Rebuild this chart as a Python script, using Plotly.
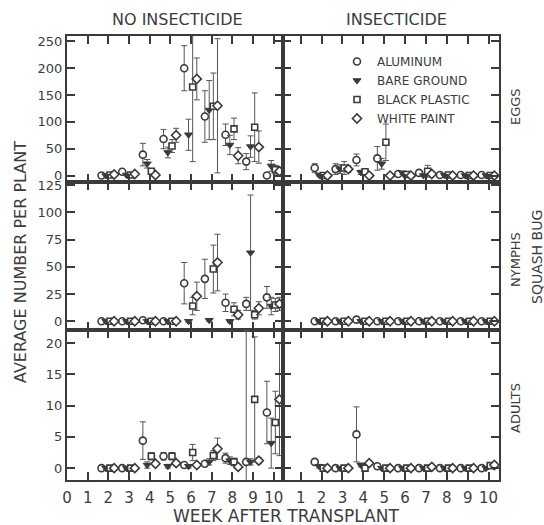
import plotly.graph_objects as go
from plotly.subplots import make_subplots

WEEKS = [2, 3, 4, 5, 6, 7, 8, 9, 10]
TREATMENTS = ["ALUMINUM", "BARE GROUND", "BLACK PLASTIC", "WHITE PAINT"]
ROW_LABELS = ["EGGS", "NYMPHS", "ADULTS"]
COL_TITLES = ["NO INSECTICIDE", "INSECTICIDE"]
X_TICKS_LEFT = [0, 1, 2, 3, 4, 5, 6, 7, 8, 9, 10]
X_TICKS_RIGHT = [1, 2, 3, 4, 5, 6, 7, 8, 9, 10]
Y_TICKS_EGGS = [0, 50, 100, 150, 200, 250]
Y_TICKS_NYMPHS = [0, 25, 50, 75, 100, 125]
Y_TICKS_ADULTS = [0, 5, 10, 15, 20]

# values per treatment (AL, BG, BP, WP) for weeks 2..10
EGGS_NO = [
    [0, 7, 39, 68, 200, 110, 76, 26, 0],
    [0, 1, 22, 43, 76, 122, 57, 54, 18],
    [1, 1, 8, 55, 165, 129, 87, 90, 11],
    [2, 3, 1, 75, 180, 130, 37, 53, 8],
]
EGGS_NO_ERR = [
    [1, 3, 21, 18, 42, 48, 20, 15, 2],
    [1, 1, 8, 10, 29, 55, 18, 20, 10],
    [1, 1, 5, 12, 139, 62, 20, 64, 8],
    [1, 2, 2, 13, 39, 125, 15, 30, 6],
]
EGGS_INS = [
    [14, 12, 29, 32, 3, 5, 1, 1, 1],
    [1, 12, 6, 22, 5, 0, 1, 0, 0],
    [0, 14, 7, 62, 2, 8, 1, 0, 0],
    [0, 12, 0, 0, 0, 3, 0, 0, 0],
]
EGGS_INS_ERR = [
    [8, 10, 11, 22, 3, 4, 1, 1, 1],
    [2, 8, 4, 10, 3, 1, 1, 1, 1],
    [1, 12, 5, 34, 2, 11, 2, 1, 1],
    [1, 6, 1, 1, 1, 3, 1, 1, 1],
]
NYMPHS_NO = [
    [0, 0, 1, 0, 35, 39, 17, 16, 22],
    [0, 0, 0, 0, 0, 1, 0, 63, 14],
    [0, 0, 0, 0, 14, 48, 11, 6, 15],
    [0, 0, 0, 0, 23, 54, 6, 12, 16],
]
NYMPHS_NO_ERR = [
    [1, 1, 1, 1, 19, 18, 8, 6, 10],
    [1, 1, 1, 1, 1, 1, 1, 53, 8],
    [1, 1, 1, 1, 8, 22, 6, 4, 6],
    [1, 1, 1, 1, 13, 26, 4, 6, 6],
]
NYMPHS_INS = [
    [0, 0, 1.5, 0, 0, 0, 0, 0, 0],
    [0, 0, 0, 0, 0, 0, 0, 0, 0],
    [0, 0, 0, 0, 0, 0, 0, 0, 0],
    [0, 0, 0, 0, 0, 0, 0, 0, 0],
]
NYMPHS_INS_ERR = [
    [1, 1, 1, 1, 1, 1, 1, 1, 1],
    [1, 1, 1, 1, 1, 1, 1, 1, 1],
    [1, 1, 1, 1, 1, 1, 1, 1, 1],
    [1, 1, 1, 1, 1, 1, 1, 1, 1],
]
ADULTS_NO = [
    [0, 0, 4.4, 1.9, 0.5, 0.7, 1.6, 1.0, 8.9],
    [0, 0, 0.5, 0.3, 0.3, 1.0, 1.2, 1.0, 4.0],
    [0, 0, 1.9, 1.9, 2.5, 2.0, 1.0, 11.0, 7.3],
    [0, 0, 0.7, 0.8, 0.5, 3.1, 0.2, 1.2, 11.0],
]
ADULTS_NO_ERR = [
    [0.2, 0.2, 3.0, 0.6, 0.3, 0.4, 0.8, 21, 5],
    [0.2, 0.2, 0.5, 0.3, 0.3, 0.5, 0.6, 0.5, 4],
    [0.2, 0.2, 0.6, 0.6, 1.3, 0.8, 0.6, 10, 5],
    [0.2, 0.2, 0.3, 0.4, 0.3, 1.7, 0.3, 0.5, 9],
]
ADULTS_INS = [
    [1.0, 0, 5.4, 0.3, 0, 0, 0, 0, 0],
    [0.3, 0, 0.5, 0, 0, 0, 0, 0, 0],
    [0, 0, 0, 0, 0, 0, 0, 0, 0.4],
    [0, 0, 0.8, 0, 0, 0.2, 0, 0, 0.5],
]
ADULTS_INS_ERR = [
    [0.3, 0.2, 4.4, 0.3, 0.2, 0.2, 0.2, 0.2, 0.2],
    [0.3, 0.2, 0.3, 0.2, 0.2, 0.2, 0.2, 0.2, 0.2],
    [0.2, 0.2, 0.2, 0.2, 0.2, 0.2, 0.2, 0.2, 0.4],
    [0.2, 0.2, 0.4, 0.2, 0.2, 0.2, 0.2, 0.2, 0.4],
]

INK = "#3a3a3a"
TXT = "#3c3c3c"
FONT = "DejaVu Sans, Liberation Sans, sans-serif"
OFFSETS = [-0.33, -0.12, 0.08, 0.28]
MARKERS = [
    dict(symbol="circle", color="white", size=7, line=dict(color=INK, width=1.6)),
    dict(symbol="triangle-down", color=INK, size=7, line=dict(color=INK, width=1)),
    dict(symbol="square", color="white", size=6, line=dict(color=INK, width=1.6)),
    dict(symbol="diamond", color="white", size=7, line=dict(color=INK, width=1.6)),
]

panels = [
    (1, 1, EGGS_NO, EGGS_NO_ERR), (1, 2, EGGS_INS, EGGS_INS_ERR),
    (2, 1, NYMPHS_NO, NYMPHS_NO_ERR), (2, 2, NYMPHS_INS, NYMPHS_INS_ERR),
    (3, 1, ADULTS_NO, ADULTS_NO_ERR), (3, 2, ADULTS_INS, ADULTS_INS_ERR),
]

fig = make_subplots(rows=3, cols=2, horizontal_spacing=0, vertical_spacing=0,
                    row_heights=[146, 148, 150])

for r, c, vals, errs in panels:
    for t in range(4):
        fig.add_trace(go.Scatter(
            x=[w + OFFSETS[t] for w in WEEKS], y=vals[t],
            mode="markers", name=TREATMENTS[t],
            marker=MARKERS[t],
            error_y=dict(type="data", array=errs[t], visible=True,
                         color="#555", thickness=1, width=3),
            showlegend=(r == 1 and c == 2),
        ), row=r, col=c)

axis_common = dict(showline=True, linewidth=2, linecolor=INK, mirror="ticks",
                   ticks="inside", ticklen=8, tickwidth=1.5, tickcolor=INK,
                   showgrid=False, zeroline=False)

y_specs = [([-12, 260], Y_TICKS_EGGS), ([-8, 128], Y_TICKS_NYMPHS), ([-1.9, 22.1], Y_TICKS_ADULTS)]
for r in range(1, 4):
    for c in (1, 2):
        xr = [0, 10.45] if c == 1 else [0.15, 10.5]
        xt = X_TICKS_LEFT if c == 1 else X_TICKS_RIGHT
        fig.update_xaxes(range=xr, tickvals=xt, showticklabels=(r == 3),
                         tickfont=dict(family=FONT, size=15, color=TXT),
                         ticklabelstandoff=3,
                         **axis_common, row=r, col=c)
        fig.update_yaxes(range=y_specs[r - 1][0], tickvals=y_specs[r - 1][1],
                         showticklabels=(c == 1),
                         tickfont=dict(family=FONT, size=13, color=TXT),
                         **axis_common, row=r, col=c)

L, R, T, B, W, H = 67, 45, 36, 45, 544, 525
pw, ph = W - L - R, H - T - B

# text labels: (text, px x, px y, angle, size)
labels = [
    (COL_TITLES[0], 177, 20, 0, 16),
    (COL_TITLES[1], 396, 20, 0, 16),
    (ROW_LABELS[0], 515, 107, -90, 13),
    (ROW_LABELS[1], 515, 260, -90, 13),
    (ROW_LABELS[2], 515, 408, -90, 13),
    ("SQUASH BUG", 537, 257, -90, 14),
    ("AVERAGE NUMBER PER PLANT", 20, 262, -90, 16),
    ("WEEK AFTER TRANSPLANT", 286, 516, 0, 17),
]
ann = []
for text, px, py, ang, sz in labels:
    ann.append(dict(text=text, x=(px - L) / pw, y=1 - (py - T) / ph,
                    xref="paper", yref="paper", xanchor="center", yanchor="middle",
                    showarrow=False, textangle=ang,
                    font=dict(family=FONT, size=sz, color=TXT)))

fig.update_layout(
    width=W, height=H,
    margin=dict(l=L, r=R, t=T, b=B),
    paper_bgcolor="white", plot_bgcolor="white",
    font=dict(family=FONT, color=TXT),
    annotations=ann,
    legend=dict(x=(337 - L) / pw, y=1 - (47 - T) / ph, xanchor="left", yanchor="top",
                bgcolor="rgba(0,0,0,0)", font=dict(family=FONT, size=12, color=TXT),
                tracegroupgap=0, itemwidth=30),
)

fig.write_html("out.html")
